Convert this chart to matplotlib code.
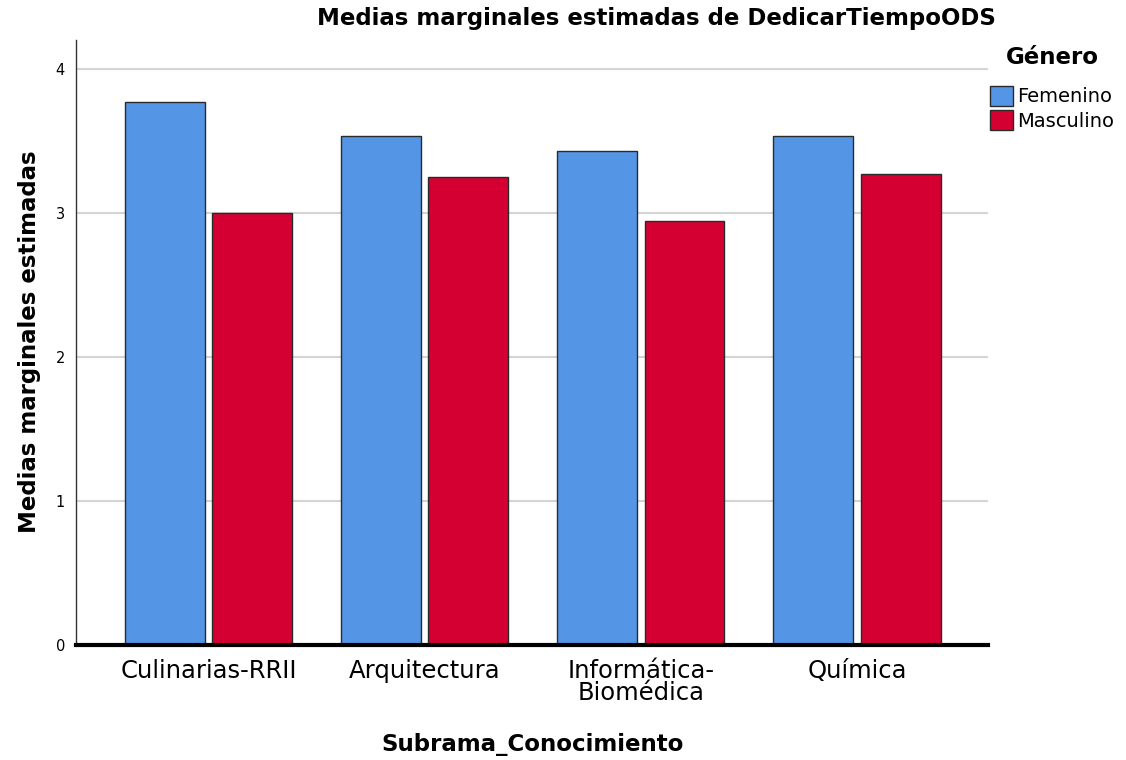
import matplotlib
matplotlib.use("Agg")
import matplotlib.pyplot as plt
import numpy as np
from matplotlib.patches import Patch

categories = ["Culinarias-RRII", "Arquitectura", "Informática-\nBiomédica", "Química"]
femenino = [3.77, 3.535, 3.43, 3.535]
masculino = [3.00, 3.25, 2.944, 3.27]
series_names = ["Femenino", "Masculino"]
colors = ["#5595E5", "#D50032"]
yticks = [0, 1, 2, 3, 4]

W, H = 1126, 760
fig = plt.figure(figsize=(W / 100, H / 100), dpi=100)
ax = fig.add_axes([76 / W, 1 - 645 / H, (988 - 76) / W, (645 - 40) / H])

x = np.arange(len(categories))
bw = 0.37
off = 0.202
ax.bar(x - off, femenino, bw, color=colors[0], edgecolor="#2a2a2a", linewidth=1.0, zorder=3)
ax.bar(x + off, masculino, bw, color=colors[1], edgecolor="#2a2a2a", linewidth=1.0, zorder=3)

ax.set_xlim(-0.613, 3.606)
ax.set_ylim(0, 4.2)
ax.set_yticks(yticks)
ax.set_yticklabels([str(t) for t in yticks], fontsize=10.5)
ax.set_xticks(x)
ax.set_xticklabels(categories, fontsize=17.5, linespacing=0.9)
ax.tick_params(axis="both", length=0)
ax.tick_params(axis="y", pad=8)
ax.tick_params(axis="x", pad=10)
ax.grid(axis="y", color="#d4d4d4", linewidth=1.5, zorder=0)
ax.set_axisbelow(True)
for s in ["top", "right"]:
    ax.spines[s].set_visible(False)
ax.spines["left"].set_color("#333333")
ax.spines["left"].set_linewidth(1.0)
ax.spines["bottom"].set_color("black")
ax.spines["bottom"].set_linewidth(3)
ax.spines["bottom"].set_zorder(5)

fig.text(656 / W, 1 - 18 / H, "Medias marginales estimadas de DedicarTiempoODS",
         ha="center", va="center", fontsize=16.5, fontweight="bold")
fig.text(30 / W, 1 - 342 / H, "Medias marginales estimadas", rotation=90,
         ha="center", va="center", fontsize=16.5, fontweight="bold")
fig.text(533 / W, 1 - 744 / H, "Subrama_Conocimiento",
         ha="center", va="center", fontsize=16.5, fontweight="bold")

handles = [Patch(facecolor=c, edgecolor="#2a2a2a", linewidth=1.0) for c in colors]
leg = fig.legend(handles, series_names, loc="upper left",
                 bbox_to_anchor=(990 / W, 1 - 46 / H), frameon=False,
                 fontsize=14, title="Género",
                 title_fontproperties={"weight": "bold", "size": 16.5},
                 handlelength=1.2, handleheight=1.2, handletextpad=0.2,
                 labelspacing=0.2, borderaxespad=0, borderpad=0)
leg._legend_box.sep = 12

fig.savefig("out.png", dpi=100)
